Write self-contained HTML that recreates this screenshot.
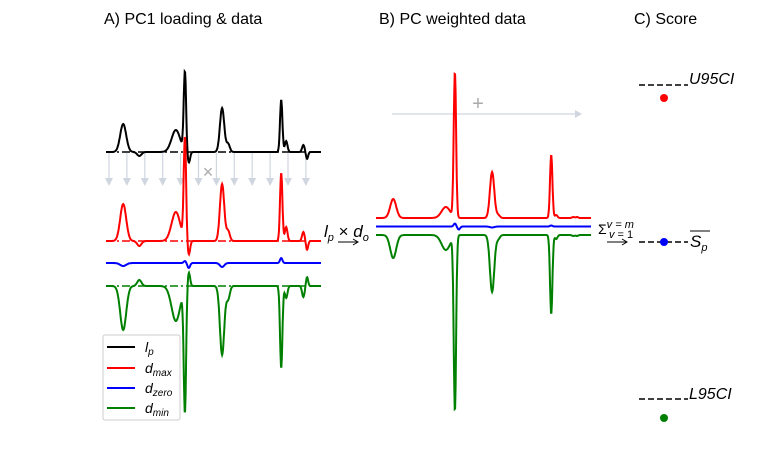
<!DOCTYPE html>
<html><head><meta charset="utf-8"><style>
html,body{margin:0;padding:0;background:#fff;}
svg{display:block;font-family:"Liberation Sans","DejaVu Sans",sans-serif;}
</style></head><body>
<svg id="fig" width="767" height="474" viewBox="0 0 767 474">
<text x="104" y="24" font-size="16">A) PC1 loading &amp; data</text>
<text x="379" y="24" font-size="16">B) PC weighted data</text>
<text x="634" y="24" font-size="16">C) Score</text>
<g id="gA"></g>
<g id="gB"></g>
<text x="478" y="110" font-size="20" fill="#aaa" text-anchor="middle">+</text>
<text x="208" y="178" font-size="18" fill="#aaa" text-anchor="middle">×</text>
<g>
<text x="324" y="237" font-size="17" font-style="italic">l<tspan font-size="11" dy="4">p</tspan><tspan dy="-4" font-style="normal"> × </tspan>d<tspan font-size="11" dy="4">o</tspan></text>
<line x1="338" y1="242" x2="358" y2="242" stroke="#000" stroke-width="1"/><path d="M353,239 L358,242 L353,245" fill="none" stroke="#000"/>
</g>
<g>
<text x="598" y="234" font-size="14">Σ<tspan font-size="11" font-style="italic" dy="-6">v = m</tspan><tspan font-size="11" x="609" dy="10"><tspan font-style="italic">v</tspan> = 1</tspan></text>
<line x1="607" y1="242" x2="627" y2="242" stroke="#000" stroke-width="1"/><path d="M622,239 L627,242 L622,245" fill="none" stroke="#000"/>
</g>
<g id="gC">
<line x1="639" y1="85" x2="688" y2="85" stroke="#000" stroke-width="1.5" stroke-dasharray="6,3"/>
<text x="689" y="84" font-size="16" font-style="italic">U95CI</text>
<circle cx="664" cy="98" r="4" fill="red"/>
<line x1="639" y1="242" x2="688" y2="242" stroke="#000" stroke-width="1.5" stroke-dasharray="6,3"/>
<circle cx="664" cy="242" r="4" fill="blue"/>
<text x="690" y="247" font-size="17" font-style="italic">S<tspan font-size="11" dy="4">p</tspan></text>
<line x1="690" y1="231" x2="710" y2="231" stroke="#000" stroke-width="1"/>
<line x1="639" y1="399" x2="688" y2="399" stroke="#000" stroke-width="1.5" stroke-dasharray="6,3"/>
<text x="689" y="399" font-size="16" font-style="italic">L95CI</text>
<circle cx="664" cy="418" r="4" fill="green"/>
</g>
<g>
<rect x="103" y="335" width="77" height="85" fill="#fff" fill-opacity="0.85" stroke="#ccc" rx="2"/>
<line x1="107" y1="347" x2="135" y2="347" stroke="#000" stroke-width="2"/><text x="145" y="352" font-size="14" font-style="italic">l<tspan font-size="10" dy="3">p</tspan></text>
<line x1="107" y1="368" x2="135" y2="368" stroke="red" stroke-width="2"/><text x="145" y="373" font-size="14" font-style="italic">d<tspan font-size="10" dy="3">max</tspan></text>
<line x1="107" y1="388" x2="135" y2="388" stroke="blue" stroke-width="2"/><text x="145" y="393" font-size="14" font-style="italic">d<tspan font-size="10" dy="3">zero</tspan></text>
<line x1="107" y1="408" x2="135" y2="408" stroke="green" stroke-width="2"/><text x="145" y="413" font-size="14" font-style="italic">d<tspan font-size="10" dy="3">min</tspan></text>
</g>
</svg>
<script>
// Peak data (positions as fraction of spectral axis, heights in arbitrary units, widths)
const peakPos   = [0.08, 0.155, 0.325, 0.367, 0.385, 0.540, 0.568, 0.815, 0.838, 0.918, 0.935];
const peakWidth = [0.014, 0.010, 0.020, 0.0055, 0.006, 0.010, 0.008, 0.0055, 0.006, 0.006, 0.005];
const loadingH  = [28, -4, 22, 79, -11, 44, 8, 52, 11, 7, -7];
const dmaxH     = [37, -5, 29, 102, -14, 57, 10, 68, 14, 9, -9];
const dzeroH    = [-3, 0, 0, 2, -5, -4, 0, 5, 0, 0, 0];
const dminH     = [-44, 6, -35, -124, 14, -69, -13, -82, -12, -11, 9];
const wMaxH     = [19, 0, 11, 145, 0, 46, 3, 63, 3, 1, 1];
const wZeroH    = [0, 0, 0, 3, -3, -1, 0, 1, 0, 0, 0];
const wMinH     = [-23, 0, -15, -175, 0, -57, -4, -79, -4, -1, -1];

const NS="http://www.w3.org/2000/svg";
function xScale(f,x0,x1){return x0+f*(x1-x0);}
function spectrum(h){
  const pts=[];
  for(let i=0;i<=500;i++){const f=i/500;let v=0;
    for(let k=0;k<peakPos.length;k++){const d=(f-peakPos[k])/peakWidth[k];v+=h[k]*Math.exp(-0.5*d*d);}
    pts.push([f,v]);}
  return pts;
}
function drawSeries(g,h,base,color,x0,x1,name){
  const p=document.createElementNS(NS,'path');
  p.setAttribute('d',spectrum(h).map((q,i)=>(i?'L':'M')+xScale(q[0],x0,x1).toFixed(1)+','+(base-q[1]).toFixed(1)).join(''));
  p.setAttribute('fill','none');p.setAttribute('stroke',color);p.setAttribute('stroke-width','2');
  
  
  g.appendChild(p);
}
function baseline(g,y,color,x0,x1,name){
  const l=document.createElementNS(NS,'line');
  l.setAttribute('x1',x0);l.setAttribute('x2',x1);l.setAttribute('y1',y);l.setAttribute('y2',y);
  l.setAttribute('stroke',color);l.setAttribute('stroke-width','1.5');l.setAttribute('stroke-dasharray','8,3,2,3');
  
  
  g.appendChild(l);
}
const gA=document.getElementById('gA'), gB=document.getElementById('gB');
for(let i=0;i<12;i++){
  const x=109+i*17.9;
  const a=document.createElementNS(NS,'g');
  
  
  a.innerHTML=`<line x1="${x}" y1="153" x2="${x}" y2="179" stroke="#d0d6e0" stroke-width="1.2"/><path d="M${x-4},178 L${x+4},178 L${x},186 Z" fill="#d0d6e0"/>`;
  gA.appendChild(a);
}
baseline(gA,152,'#000',106,321,'loading-baseline');
baseline(gA,241,'red',106,321,'dmax-baseline');
baseline(gA,286,'green',106,321,'dmin-baseline');
drawSeries(gA,loadingH,152,'#000',106,321,'loading-line');
drawSeries(gA,dmaxH,241,'red',106,321,'dmax-line');
drawSeries(gA,dzeroH,263,'blue',106,321,'dzero-line');
drawSeries(gA,dminH,286,'green',106,321,'dmin-line');
const ar=document.createElementNS(NS,'g');


ar.innerHTML='<line x1="392" y1="114" x2="577" y2="114" stroke="#d0d6e0" stroke-width="1.2"/><path d="M575,110 L582,114 L575,118 Z" fill="#d0d6e0"/>';
gB.appendChild(ar);
drawSeries(gB,wMaxH,218,'red',376,591,'weighted-dmax-line');
drawSeries(gB,wZeroH,226.5,'blue',376,591,'weighted-dzero-line');
drawSeries(gB,wMinH,235,'green',376,591,'weighted-dmin-line');
</script>
</body></html>
